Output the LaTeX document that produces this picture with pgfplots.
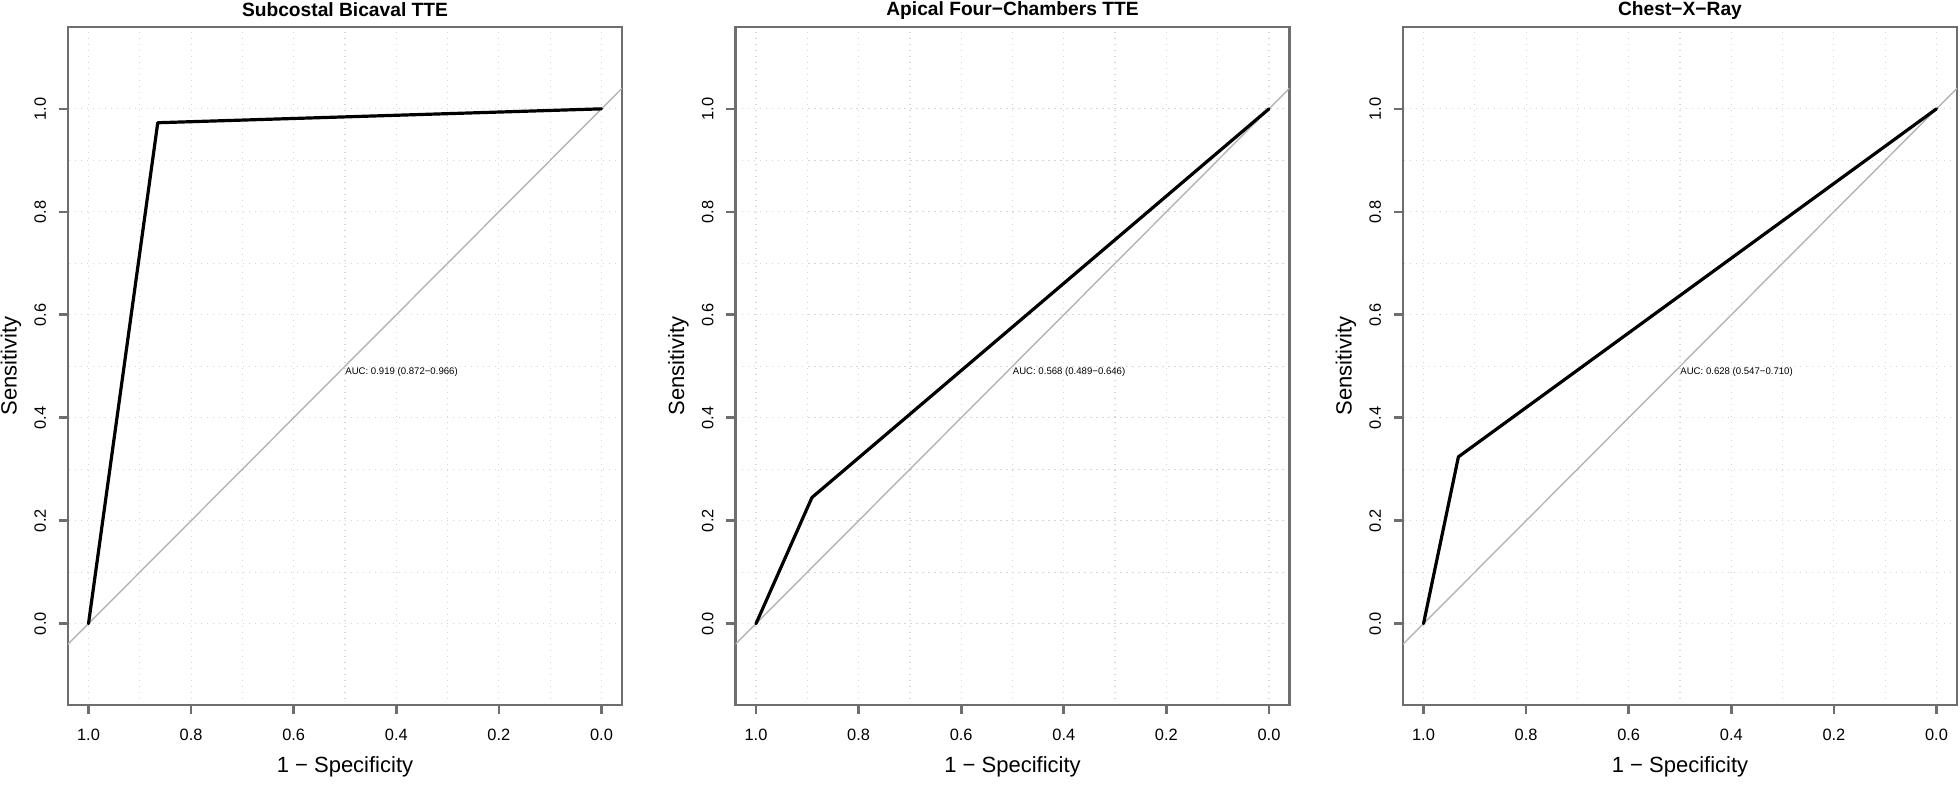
\documentclass[border=0pt]{standalone}
\usepackage{fontspec}
\setmainfont{Liberation Sans}
\usepackage{pgfplots}
\pgfplotsset{compat=1.18}
\definecolor{boxgray}{HTML}{6E6E6E}
\definecolor{diaggray}{HTML}{B4B4B4}
\definecolor{gridgray}{HTML}{D6D6D6}
\tikzset{
  auc/.style={anchor=west, inner sep=0pt, font=\fontsize{4.8}{5.5}\selectfont},
  ptitle/.style={anchor=center, inner sep=0pt, font=\bfseries\fontsize{9.6}{11}\selectfont},
}
\pgfplotsset{
  rocpanel/.style={
    scale only axis, width=277pt, height=339pt,
    anchor=south west, clip mode=individual,
    x dir=reverse, xmin=-0.04, xmax=1.04, ymin=-0.158, ymax=1.159,
    xtick={0,0.2,0.4,0.6,0.8,1.0}, ytick={0,0.2,0.4,0.6,0.8,1.0},
    minor xtick={0.1,0.3,0.5,0.7,0.9}, minor ytick={0.1,0.3,0.5,0.7,0.9},
    grid=both,
    major grid style={gridgray, dash pattern=on 0.7pt off 2.3pt, line width=0.6pt},
    minor grid style={gridgray, dash pattern=on 0.7pt off 2.3pt, line width=0.6pt},
    minor tick length=0pt, major tick length=4.5pt,
    tick align=outside, tick pos=left,
    axis line style={boxgray, line width=1.3pt},
    major tick style={boxgray, line width=1.3pt},
    tick label style={font=\fontsize{8.2}{9.6}\selectfont, text=black},
    /pgf/number format/fixed, /pgf/number format/fixed zerofill,
    /pgf/number format/precision=1, /pgf/number format/assume math mode=true,
    yticklabel style={rotate=90, anchor=south},
    xticklabel shift=4pt, yticklabel shift=3pt,
    xlabel={1 − Specificity}, ylabel={Sensitivity},
    label style={font=\fontsize{11}{13}\selectfont},
    xlabel style={at={(axis description cs:0.5,-0.0915)}, anchor=center},
    ylabel style={at={(axis description cs:-0.103,0.5)}, anchor=center},
    roc/.style={black, line width=1.6pt, line join=round, line cap=round},
    diag/.style={diaggray, line width=0.7pt},
  }
}
\begin{document}
\begin{tikzpicture}
\path[use as bounding box] (0,0) rectangle (980pt,393pt);
\begin{axis}[rocpanel, at={(34pt,40.5pt)}]
\addplot[diag] coordinates {(1.04,-0.04) (-0.04,1.04)};
\addplot[roc] coordinates {(1.0,0.0) (0.865,0.973) (0.0,1.0)};
\node[auc] at (axis cs:0.5,0.489) {AUC: 0.919 (0.872−0.966)};
\node[ptitle] at (axis description cs:0.5,1.025) {Subcostal Bicaval TTE};
\end{axis}
\begin{axis}[rocpanel, at={(367.75pt,40.5pt)}]
\addplot[diag] coordinates {(1.04,-0.04) (-0.04,1.04)};
\addplot[roc] coordinates {(1.0,0.0) (0.891,0.245) (0.0,1.0)};
\node[auc] at (axis cs:0.5,0.489) {AUC: 0.568 (0.489−0.646)};
\node[ptitle] at (axis description cs:0.5,1.025) {Apical Four−Chambers TTE};
\end{axis}
\begin{axis}[rocpanel, at={(701.5pt,40.5pt)}]
\addplot[diag] coordinates {(1.04,-0.04) (-0.04,1.04)};
\addplot[roc] coordinates {(1.0,0.0) (0.932,0.324) (0.0,1.0)};
\node[auc] at (axis cs:0.5,0.489) {AUC: 0.628 (0.547−0.710)};
\node[ptitle] at (axis description cs:0.5,1.025) {Chest−X−Ray};
\end{axis}
\end{tikzpicture}
\end{document}
